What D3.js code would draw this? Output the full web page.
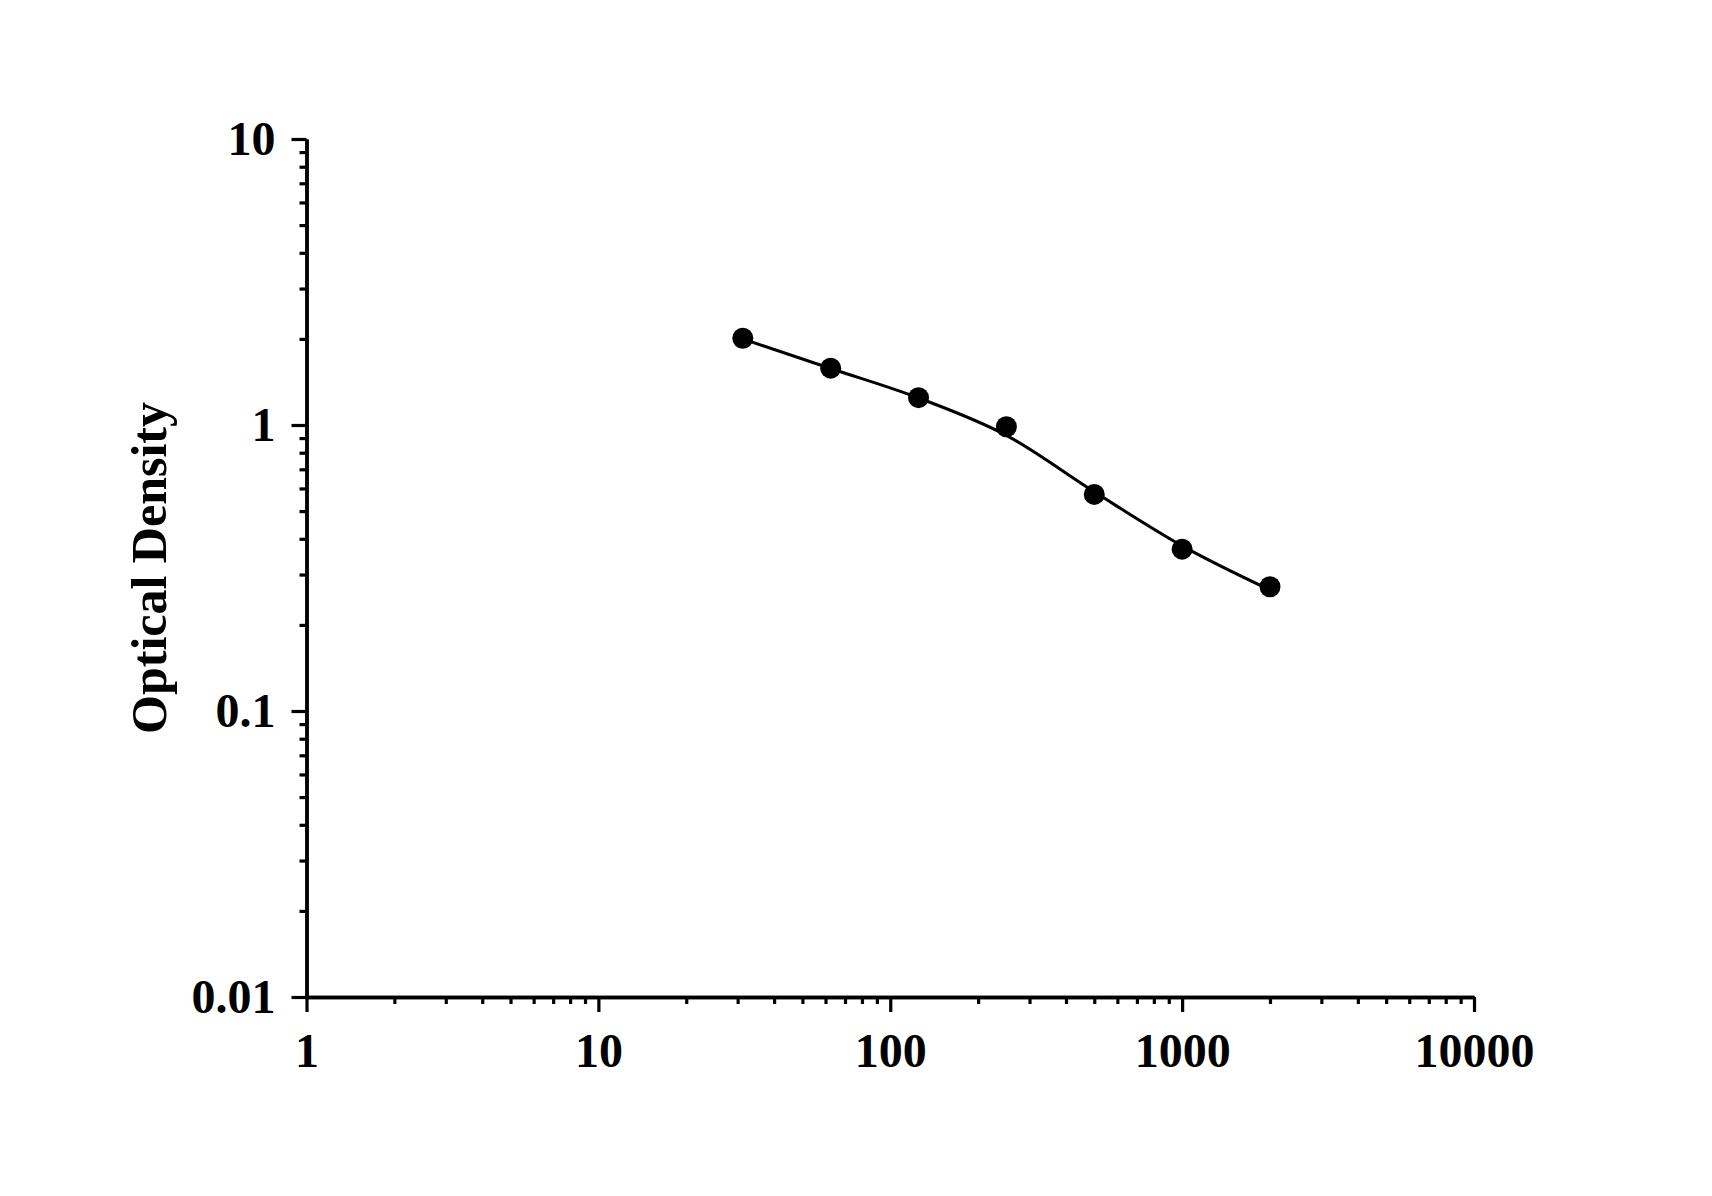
<!DOCTYPE html>
<html>
<head>
    <title>Optical Density standard curve</title>
    <script src="https://d3js.org/d3.v7.min.js"></script>
    <style>
        body { margin: 0; background: #fff; }
        svg text { font-family: "Liberation Serif", "Times New Roman", serif; font-weight: bold; fill: #000; }
    </style>
</head>
<body>
    <div id="chart"></div>

    <script type="text/javascript">
        var concentration = [31.25, 62.5, 125, 250, 500, 1000, 2000];
        var odMeasured = [2.01, 1.58, 1.246, 0.986, 0.572, 0.368, 0.272];
        // fitted curve drawn through the same x positions
        var odFitted = [2.00, 1.576, 1.243, 0.92, 0.584, 0.378, 0.265];

        var xMajor = [1, 10, 100, 1000, 10000];
        var xMajorLabels = ["1", "10", "100", "1000", "10000"];
        var yMajor = [0.01, 0.1, 1, 10];
        var yMajorLabels = ["0.01", "0.1", "1", "10"];
        var yTitle = "Optical Density";

        var width = 1712, height = 1196;

        var svg = d3.select("#chart").append("svg")
            .attr("width", width)
            .attr("height", height);

        var x = d3.scaleLog().domain([1, 10000]).range([306.5, 1474]);
        var y = d3.scaleLog().domain([0.01, 10]).range([997, 139]);

        // minor ticks 2..9 in every decade
        var minorTicks = function(majors) {
            var out = [];
            for (var i = 0; i < majors.length - 1; i++)
                for (var k = 2; k <= 9; k++) out.push(majors[i] * k);
            return out;
        };

        var styleAxis = function(g) {
            g.select(".domain").attr("stroke", "#000").attr("stroke-width", 3.5);
            g.selectAll(".tick line").attr("stroke", "#000").attr("stroke-width", 3.2);
        };

        // x axis
        var gxMinor = svg.append("g")
            .attr("transform", "translate(0," + y(0.01) + ")")
            .call(d3.axisBottom(x).tickValues(minorTicks(xMajor)).tickSize(7).tickSizeOuter(0).tickFormat(""))
            .call(styleAxis);
        gxMinor.selectAll("text").remove();

        svg.append("g")
            .attr("transform", "translate(0," + y(0.01) + ")")
            .call(d3.axisBottom(x).tickValues(xMajor).tickSize(15).tickSizeOuter(0)
                .tickPadding(21).tickFormat(function(d, i) { return xMajorLabels[i]; }))
            .call(styleAxis)
            .call(function(g) { g.selectAll("text").attr("font-size", 48).attr("font-family", null); });

        // y axis
        var gyMinor = svg.append("g")
            .attr("transform", "translate(" + x(1) + ",0)")
            .call(d3.axisLeft(y).tickValues(minorTicks(yMajor)).tickSize(7).tickSizeOuter(0).tickFormat(""))
            .call(styleAxis);
        gyMinor.selectAll("text").remove();

        svg.append("g")
            .attr("transform", "translate(" + x(1) + ",0)")
            .call(d3.axisLeft(y).tickValues(yMajor).tickSize(15).tickSizeOuter(0)
                .tickPadding(16).tickFormat(function(d, i) { return yMajorLabels[i]; }))
            .call(styleAxis)
            .call(function(g) { g.selectAll("text").attr("font-size", 48).attr("font-family", null); });

        // y axis title
        svg.append("text")
            .attr("transform", "translate(166," + 568 + ") rotate(-90)")
            .attr("text-anchor", "middle")
            .attr("font-size", 50)
            .text(yTitle);

        // fitted curve
        var line = d3.line()
            .x(function(d) { return x(d[0]); })
            .y(function(d) { return y(d[1]); })
            .curve(d3.curveMonotoneX);

        svg.append("path")
            .datum(d3.zip(concentration, odFitted))
            .attr("fill", "none")
            .attr("stroke", "#000")
            .attr("stroke-width", 3)
            .attr("d", line);

        // measured points
        svg.append("g").selectAll("circle")
            .data(d3.zip(concentration, odMeasured))
            .enter()
            .append("circle")
            .attr("cx", function(d) { return x(d[0]); })
            .attr("cy", function(d) { return y(d[1]); })
            .attr("r", 10.5)
            .attr("fill", "#000");
    </script>
</body>
</html>
